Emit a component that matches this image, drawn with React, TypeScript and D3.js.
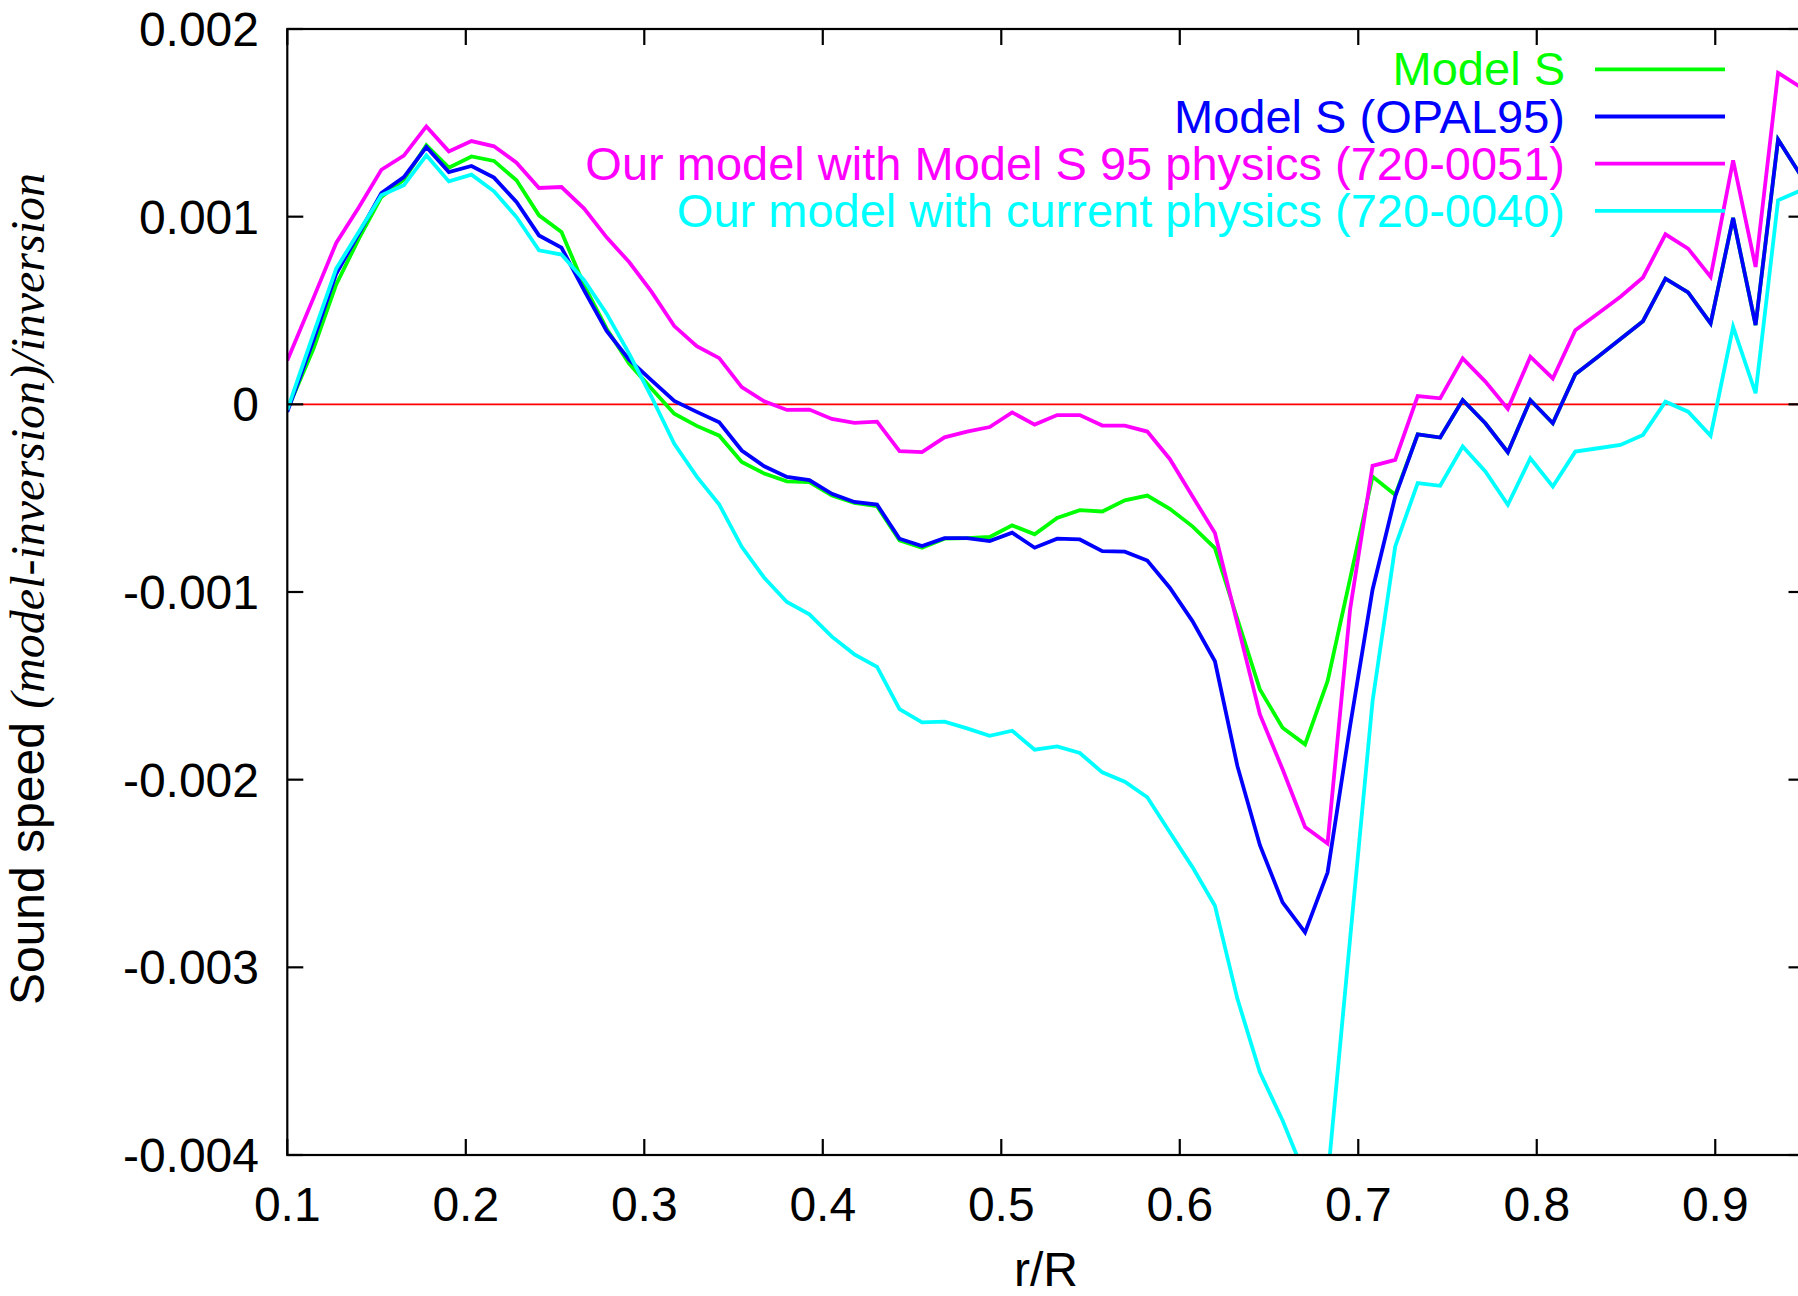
import React from "react";
import * as d3 from "d3";

// Fractional radius r/R of the inversion points
const radius = [
  0.1, 0.1148, 0.1274, 0.1401, 0.1527, 0.1653, 0.1779, 0.1905, 0.2032, 0.2158,
  0.2284, 0.241, 0.2536, 0.2663, 0.2789, 0.2915, 0.3041, 0.3168, 0.3294, 0.342,
  0.3546, 0.3672, 0.3799, 0.3925, 0.4051, 0.4177, 0.4304, 0.443, 0.4556, 0.4682,
  0.4808, 0.4935, 0.5061, 0.5187, 0.5313, 0.544, 0.5566, 0.5692, 0.5818, 0.5944,
  0.6071, 0.6197, 0.6323, 0.6449, 0.6576, 0.6702, 0.6828, 0.6954, 0.708, 0.7207,
  0.7333, 0.7459, 0.7585, 0.7712, 0.7838, 0.7964, 0.809, 0.8216, 0.8343, 0.8469,
  0.8595, 0.8721, 0.8848, 0.8974, 0.91, 0.9226, 0.9352, 0.9479,
];

// Relative sound-speed differences, in units of 1e-3
const modelS = [
  -0.03, 0.3, 0.639, 0.883, 1.105, 1.197, 1.38, 1.261, 1.321, 1.297,
  1.194, 1.007, 0.918, 0.634, 0.403, 0.217, 0.083, -0.05, -0.115, -0.167,
  -0.307, -0.369, -0.41, -0.415, -0.486, -0.525, -0.543, -0.725, -0.764, -0.716,
  -0.713, -0.707, -0.645, -0.693, -0.605, -0.564, -0.571, -0.512, -0.486, -0.557,
  -0.65, -0.766, -1.144, -1.52, -1.723, -1.812, -1.475, -0.93, -0.385, -0.482,
  -0.16, -0.177, 0.023, -0.101, -0.255, 0.023, -0.101, 0.16, 0.254, 0.348,
  0.443, 0.67, 0.596, 0.431, 0.993, 0.422, 1.411, 1.22,
];

const modelSOpal95 = [
  -0.04, 0.345, 0.696, 0.91, 1.126, 1.211, 1.371, 1.238, 1.27, 1.208,
  1.078, 0.9, 0.835, 0.607, 0.391, 0.238, 0.128, 0.018, -0.04, -0.096,
  -0.246, -0.33, -0.387, -0.404, -0.477, -0.52, -0.534, -0.716, -0.755, -0.713,
  -0.713, -0.729, -0.684, -0.764, -0.716, -0.72, -0.782, -0.785, -0.832, -0.977,
  -1.155, -1.369, -1.928, -2.349, -2.654, -2.814, -2.495, -1.715, -0.988, -0.491,
  -0.16, -0.177, 0.023, -0.101, -0.255, 0.023, -0.101, 0.16, 0.254, 0.348,
  0.443, 0.67, 0.596, 0.431, 0.993, 0.422, 1.411, 1.22,
];

const ourModelS95 = [
  0.234, 0.57, 0.86, 1.05, 1.25, 1.325, 1.481, 1.348, 1.403, 1.375,
  1.288, 1.153, 1.158, 1.043, 0.89, 0.758, 0.599, 0.417, 0.31, 0.246,
  0.092, 0.016, -0.03, -0.028, -0.078, -0.099, -0.092, -0.25, -0.255, -0.176,
  -0.145, -0.121, -0.043, -0.108, -0.057, -0.057, -0.113, -0.113, -0.145, -0.291,
  -0.49, -0.686, -1.17, -1.652, -1.945, -2.252, -2.34, -1.094, -0.328, -0.296,
  0.044, 0.032, 0.245, 0.121, -0.024, 0.254, 0.138, 0.395, 0.484, 0.573,
  0.676, 0.906, 0.83, 0.679, 1.3, 0.732, 1.766, 1.69,
];

const ourModelCurrent = [
  -0.03, 0.38, 0.723, 0.92, 1.114, 1.167, 1.327, 1.188, 1.224, 1.135,
  0.998, 0.821, 0.798, 0.661, 0.483, 0.27, 0.039, -0.21, -0.385, -0.534,
  -0.759, -0.924, -1.053, -1.119, -1.238, -1.332, -1.399, -1.624, -1.695, -1.691,
  -1.727, -1.766, -1.739, -1.84, -1.823, -1.858, -1.961, -2.011, -2.094, -2.28,
  -2.466, -2.672, -3.168, -3.559, -3.816, -4.11, -4.13, -2.85, -1.582, -0.757,
  -0.42, -0.434, -0.225, -0.358, -0.535, -0.287, -0.438, -0.252, -0.234, -0.216,
  -0.163, 0.014, -0.039, -0.167, 0.413, 0.059, 1.087, 1.14,
];

const seriesNames = [
  "Model S",
  "Model S (OPAL95)",
  "Our model with Model S 95 physics (720-0051)",
  "Our model with current physics (720-0040)",
];
const seriesColors = ["#00ff00", "#0000ff", "#ff00ff", "#00ffff"];
const seriesValues = [modelS, modelSOpal95, ourModelS95, ourModelCurrent];

// Axis ticks (y in units of 1e-3)
const yTickValues = [-4, -3, -2, -1, 0, 1, 2];
const yTickLabels = ["-0.004", "-0.003", "-0.002", "-0.001", "0", "0.001", "0.002"];
const xTickValues = [0.1, 0.2, 0.3, 0.4, 0.5, 0.6, 0.7, 0.8, 0.9];
const xTickLabels = ["0.1", "0.2", "0.3", "0.4", "0.5", "0.6", "0.7", "0.8", "0.9"];

const W = 1798;
const H = 1296;
const plotLeft = 287.3;
const plotRight = 1804.5;
const plotTop = 29;
const plotBottom = 1155;
const tickLen = 16;
const sans = "'Liberation Sans', Arial, Helvetica, sans-serif";
const serif = "'Liberation Serif', 'Times New Roman', serif";

export default function App() {
  const x = d3.scaleLinear().domain([0.1, 0.95]).range([plotLeft, plotRight]);
  const y = d3.scaleLinear().domain([-4, 2]).range([plotBottom, plotTop]);

  const line = d3
    .line<number>()
    .x((_, i) => x(radius[i]))
    .y((d) => y(d));

  const legendTop = 69.3;
  const legendStep = 47.2;

  return (
    <svg
      width={W}
      height={H}
      viewBox={`0 0 ${W} ${H}`}
      style={{ position: "absolute", left: 0, top: 0, background: "#fff" }}
    >
      <defs>
        <clipPath id="plot-area">
          <rect x={plotLeft} y={plotTop} width={plotRight - plotLeft} height={plotBottom - plotTop} />
        </clipPath>
      </defs>
      <rect x={0} y={0} width={W} height={H} fill="#fff" />

      {/* zero axis */}
      <line
        x1={plotLeft}
        x2={plotRight}
        y1={y(0)}
        y2={y(0)}
        stroke="#ff0000"
        strokeWidth={1.8}
      />

      {/* data curves */}
      <g clipPath="url(#plot-area)">
        {seriesValues.map((vals, k) => (
          <path
            key={seriesNames[k]}
            d={line(vals) || ""}
            fill="none"
            stroke={seriesColors[k]}
            strokeWidth={3.8}
            strokeLinejoin="miter"
          />
        ))}
      </g>

      {/* frame */}
      <rect
        x={plotLeft}
        y={plotTop}
        width={plotRight - plotLeft}
        height={plotBottom - plotTop}
        fill="none"
        stroke="#000"
        strokeWidth={2.2}
      />

      {/* y ticks */}
      {yTickValues.map((v, i) => (
        <g key={"y" + v}>
          <line x1={plotLeft} x2={plotLeft + tickLen} y1={y(v)} y2={y(v)} stroke="#000" strokeWidth={2.2} />
          <line x1={plotRight} x2={plotRight - tickLen} y1={y(v)} y2={y(v)} stroke="#000" strokeWidth={2.2} />
          <text
            x={259}
            y={y(v) + 17}
            textAnchor="end"
            fontFamily={sans}
            fontSize={48}
            fill="#000"
          >
            {yTickLabels[i]}
          </text>
        </g>
      ))}

      {/* x ticks */}
      {xTickValues.map((v, i) => (
        <g key={"x" + v}>
          <line x1={x(v)} x2={x(v)} y1={plotBottom} y2={plotBottom - tickLen} stroke="#000" strokeWidth={2.2} />
          <line x1={x(v)} x2={x(v)} y1={plotTop} y2={plotTop + tickLen} stroke="#000" strokeWidth={2.2} />
          <text
            x={x(v)}
            y={1221}
            textAnchor="middle"
            fontFamily={sans}
            fontSize={48}
            fill="#000"
          >
            {xTickLabels[i]}
          </text>
        </g>
      ))}

      {/* axis titles */}
      <text
        x={(plotLeft + plotRight) / 2}
        y={1286}
        textAnchor="middle"
        fontFamily={sans}
        fontSize={48}
        fill="#000"
      >
        r/R
      </text>
      <text
        transform={`translate(43.5, 589) rotate(-90)`}
        textAnchor="middle"
        fontSize={48}
        fill="#000"
      >
        <tspan fontFamily={sans}>Sound speed </tspan>
        <tspan fontFamily={serif} fontStyle="italic">
          (model-inversion)/inversion
        </tspan>
      </text>

      {/* key */}
      {seriesNames.map((name, k) => {
        const ry = legendTop + legendStep * k;
        return (
          <g key={"key" + k}>
            <text
              x={1565}
              y={ry + 16}
              textAnchor="end"
              fontFamily={sans}
              fontSize={47}
              fill={seriesColors[k]}
            >
              {name}
            </text>
            <line x1={1595} x2={1725} y1={ry} y2={ry} stroke={seriesColors[k]} strokeWidth={3.8} />
          </g>
        );
      })}
    </svg>
  );
}
